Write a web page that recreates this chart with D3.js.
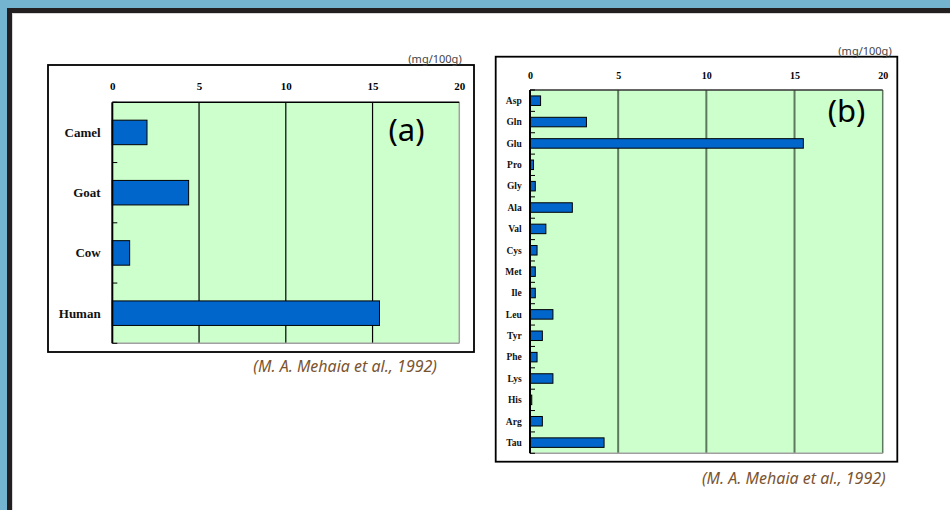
<!DOCTYPE html>
<html>
<head>
<meta charset="utf-8">
<script src="https://cdn.jsdelivr.net/npm/d3@7"></script>
<style>
  html, body { margin: 0; padding: 0; background: #74b4d0; }
  svg { display: block; }
</style>
</head>
<body>
<svg id="page" width="950" height="510"></svg>
<script>
// Free amino acid content of milk (mg/100g)
const speciesCategories = ["Camel", "Goat", "Cow", "Human"];
const taurineValues = [2.0, 4.4, 1.0, 15.4];

const aminoCategories = ["Asp", "Gln", "Glu", "Pro", "Gly", "Ala", "Val", "Cys", "Met",
  "Ile", "Leu", "Tyr", "Phe", "Lys", "His", "Arg", "Tau"];
const aminoValues = [0.6, 3.2, 15.5, 0.2, 0.3, 2.4, 0.9, 0.4, 0.3,
  0.3, 1.3, 0.7, 0.4, 1.3, 0.1, 0.7, 4.2];

const xTicks = [0, 5, 10, 15, 20];
const unitLabel = "(mg/100g)";
const sourceLabel = "(M. A. Mehaia et al., 1992)";

const svg = d3.select("#page");

// page frame
svg.append("rect").attr("x", 0).attr("y", 0).attr("width", 950).attr("height", 510).attr("fill", "#74b4d0");
svg.append("rect").attr("x", 7).attr("y", 8).attr("width", 943).attr("height", 502).attr("fill", "#231f20");
svg.append("rect").attr("x", 12).attr("y", 13).attr("width", 938).attr("height", 497).attr("fill", "#d8d8d8");
svg.append("rect").attr("x", 13).attr("y", 14).attr("width", 937).attr("height", 496).attr("fill", "#ffffff");

function drawPanel(cfg) {
  const g = svg.append("g");

  // outer box
  g.append("rect")
    .attr("x", cfg.box[0]).attr("y", cfg.box[1])
    .attr("width", cfg.box[2] - cfg.box[0]).attr("height", cfg.box[3] - cfg.box[1])
    .attr("fill", "#ffffff").attr("stroke", "#000").attr("stroke-width", 1.8);

  const [L, T, R, B] = cfg.plot;
  const x = d3.scaleLinear().domain([0, 20]).range([L, R]);
  const pad = cfg.pad;
  const y = d3.scaleBand().domain(cfg.categories).range([T, B])
    .paddingInner(pad).paddingOuter(pad / 2);

  // plot background
  g.append("rect").attr("x", L).attr("y", T).attr("width", R - L).attr("height", B - T)
    .attr("fill", "#ccffcc");

  // vertical grid lines
  g.append("g").selectAll("line").data(xTicks.filter(v => v > 0 && v < 20)).join("line")
    .attr("x1", d => x(d)).attr("x2", d => x(d)).attr("y1", T).attr("y2", B)
    .attr("stroke", cfg.gridColor).attr("stroke-width", cfg.gridWidth);

  // plot border: right & bottom lighter, top darker
  g.append("line").attr("x1", R).attr("x2", R).attr("y1", T).attr("y2", B)
    .attr("stroke", cfg.rightColor).attr("stroke-width", 1.5);
  g.append("line").attr("x1", L).attr("x2", R).attr("y1", B).attr("y2", B)
    .attr("stroke", "#a0a0a0").attr("stroke-width", 1.5);
  g.append("line").attr("x1", L).attr("x2", R).attr("y1", T).attr("y2", T)
    .attr("stroke", cfg.topColor).attr("stroke-width", 1.5);

  // bars
  g.append("g").selectAll("rect").data(cfg.values).join("rect")
    .attr("x", x(0))
    .attr("y", (d, i) => y(cfg.categories[i]))
    .attr("width", d => x(d) - x(0))
    .attr("height", y.bandwidth())
    .attr("fill", "#0066cc")
    .attr("stroke", "#000").attr("stroke-width", 1);

  // top axis labels
  const xAxis = d3.axisTop(x).tickValues(xTicks).tickSize(0).tickPadding(0).tickFormat(d3.format("d"));
  const ax = g.append("g").attr("transform", `translate(0,${cfg.tickY})`).call(xAxis);
  ax.select(".domain").remove();
  ax.selectAll("text")
    .attr("dy", "0.35em")
    .attr("font-family", "'Liberation Serif', 'Times New Roman', serif")
    .attr("font-weight", "bold").attr("font-size", cfg.tickFont).attr("fill", "#000");

  // left axis with category labels; ticks at band boundaries
  const bounds = d3.range(cfg.categories.length + 1).map(i => T + i * (B - T) / cfg.categories.length);
  g.append("g").selectAll("line").data(bounds).join("line")
    .attr("x1", L).attr("x2", L + 5).attr("y1", d => d).attr("y2", d => d)
    .attr("stroke", "#000").attr("stroke-width", 1);
  g.append("line").attr("x1", L).attr("x2", L).attr("y1", T).attr("y2", B)
    .attr("stroke", "#000").attr("stroke-width", 2);

  g.append("g").selectAll("text").data(cfg.categories).join("text")
    .attr("x", cfg.labelX)
    .attr("y", d => y(d) + y.bandwidth() / 2)
    .attr("dy", "0.35em")
    .attr("text-anchor", "end")
    .attr("font-family", "'Liberation Serif', 'Times New Roman', serif")
    .attr("font-weight", "bold").attr("font-size", cfg.catFont).attr("fill", "#111")
    .text(d => d);

  // unit label
  g.append("text").attr("x", cfg.unitPos[0]).attr("y", cfg.unitPos[1])
    .attr("text-anchor", "end")
    .attr("font-family", "'Noto Sans', 'Open Sans', sans-serif")
    .attr("font-size", 11).attr("fill", "#444")
    .text(unitLabel);

  // panel letter
  g.append("text").attr("x", cfg.letterPos[0]).attr("y", cfg.letterPos[1])
    .attr("dy", "0.35em")
    .attr("text-anchor", "middle")
    .attr("font-family", "'Noto Sans', 'Open Sans', sans-serif")
    .attr("font-size", 31).attr("fill", "#000")
    .text(cfg.letter);

  // source note
  g.append("text").attr("x", cfg.sourcePos[0]).attr("y", cfg.sourcePos[1])
    .attr("dy", "0.35em")
    .attr("text-anchor", "end")
    .attr("font-family", "'Noto Sans', 'Open Sans', sans-serif")
    .attr("font-style", "italic")
    .attr("font-size", 16).attr("fill", "#7a5430")
    .text(sourceLabel);
}

drawPanel({
  categories: speciesCategories,
  values: taurineValues,
  box: [48, 65, 474, 352],
  plot: [112.3, 102.3, 459.3, 343.3],
  pad: 0.593,
  gridColor: "#000", gridWidth: 1.2,
  rightColor: "#a0a0a0", topColor: "#000",
  tickY: 85.7, tickFont: 11,
  labelX: 100.7, catFont: 13,
  unitPos: [461.7, 63],
  letter: "(a)", letterPos: [406.5, 130.5],
  sourcePos: [437, 366.7]
});

drawPanel({
  categories: aminoCategories,
  values: aminoValues,
  box: [495.7, 56.7, 897.3, 461.7],
  plot: [530, 90, 882.7, 453.3],
  pad: 0.555,
  gridColor: "#5e7a5e", gridWidth: 2,
  rightColor: "#5e7a5e", topColor: "#333",
  tickY: 75, tickFont: 10,
  labelX: 521.7, catFont: 9.5,
  unitPos: [891.7, 55],
  letter: "(b)", letterPos: [846.5, 111.5],
  sourcePos: [885.7, 478.3]
});
</script>
</body>
</html>
